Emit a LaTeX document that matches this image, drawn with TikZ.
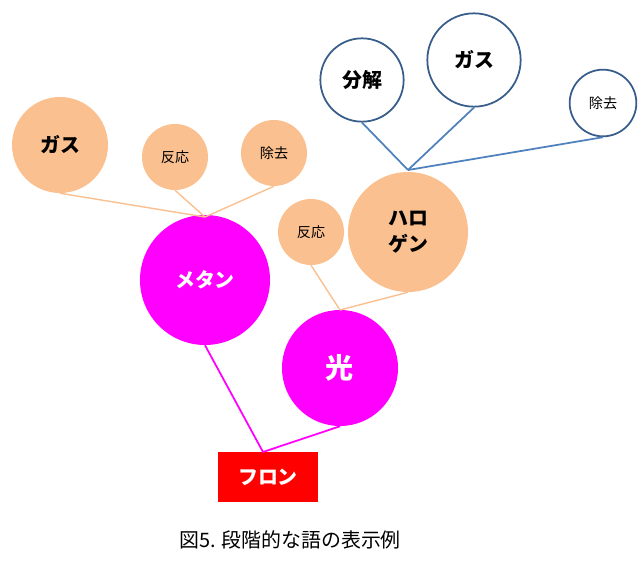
\documentclass[tikz,border=0pt]{standalone}
\usepackage{fontspec}
\newfontfamily\jp{Noto Sans CJK JP}
\usepackage{tikz}
\definecolor{mag}{RGB}{255,0,255}
\definecolor{peach}{RGB}{250,192,144}
\definecolor{navy}{RGB}{56,93,138}
\definecolor{lblue}{RGB}{79,129,189}

\begin{document}
\begin{tikzpicture}[x=0.03cm,y=-0.03cm]
\tikzstyle{every node}+=[inner sep=0pt,font=\jp\bfseries]
\tikzset{
  beige/.style={circle,fill=peach,text=black},
  pink/.style={circle,fill=mag,text=white},
  blue/.style={circle,draw=navy,line width=1.5pt,fill=white,text=black},
  bline/.style={peach,line width=1.2pt},
  uline/.style={lblue,line width=1.5pt},
  mline/.style={mag,line width=1.5pt},
  big/.style={font=\jp\bfseries\fontsize{17}{22}\selectfont},
  small/.style={font=\jp\fontsize{12}{14}\selectfont}
}
\useasboundingbox (0,0) rectangle (643,561);
% circles
\node [beige,minimum size=2.88cm,big] (gasL) at (60,145) {ガス};
\node [beige,minimum size=1.98cm,small] (hanM) at (175,157) {反応};
\node [beige,minimum size=1.98cm,small] (jokyoM) at (274,153) {除去};
\node [pink,minimum size=3.9cm,big] (metan) at (205,280) {メタン};
\node [beige,minimum size=1.98cm,small] (hanH) at (311,232) {反応};
\node [beige,minimum size=3.6cm,big,align=center] (halo) at (408,232) {ハロ\\ゲン};
\node [pink,minimum size=3.48cm,font=\jp\bfseries\fontsize{24}{28}\selectfont] (hikari) at (340,368) {光};
\node [blue,minimum size=2.5cm,big] (bunkai) at (362,80) {分解};
\node [blue,minimum size=2.8cm,big] (gasH) at (474,60) {ガス};
\node [blue,minimum size=2cm,small] (jokyoH) at (603,103) {除去};
\node [fill=red,text=white,minimum width=3cm,minimum height=1.5cm,big] (furon) at (268,477) {フロン};
\node [font=\jp\fontsize{17}{20}\selectfont] (cap) at (290,540) {図5. 段階的な語の表示例};
% junctions
\coordinate (jM) at (205,217);
\coordinate (jH) at (340,310);
\coordinate (jB) at (408,170);
\coordinate (jF) at (263,452);
\draw [bline] (gasL.south) -- (jM);
\draw [bline] (hanM.south) -- (jM);
\draw [bline] (jokyoM.south) -- (jM);
\draw [bline] (hanH.south) -- (jH);
\draw [bline] (halo.south) -- (jH);
\draw [uline] (bunkai.south) -- (jB);
\draw [uline] (gasH.south) -- (jB);
\draw [uline] (jokyoH.south) -- (jB);
\draw [mline] (metan.south) -- (jF);
\draw [mline] (hikari.south) -- (jF);
\end{tikzpicture}
\end{document}
